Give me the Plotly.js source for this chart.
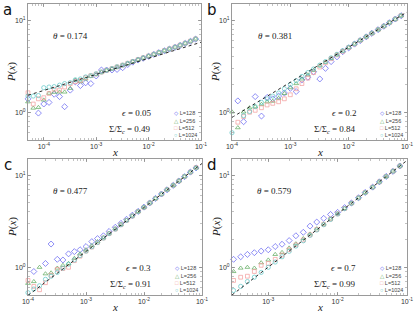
<!DOCTYPE html>
<html><head><meta charset="utf-8">
<script src="https://cdn.plot.ly/plotly-3.0.1.min.js"></script>
<style>html,body{margin:0;padding:0;background:#fff}#chart{width:415px;height:312px}</style>
</head><body><div id="chart"></div>
<script>
// ---------- data ----------
const SERIES = ['L=128', 'L=256', 'L=512', 'L=1024'];
const PANELS = ['a', 'b', 'c', 'd'];
const THETA = ['0.174', '0.381', '0.477', '0.579'];
const EPS = ['0.05', '0.2', '0.3', '0.7'];
const SIGMA_RATIO = ['0.49', '0.84', '0.91', '0.99'];

const X_A = [5.0e-5, 6.3e-5, 7.9e-5, 1.0e-4, 1.26e-4, 1.58e-4, 2.0e-4, 2.5e-4, 3.2e-4, 4.0e-4, 5.0e-4, 6.3e-4, 7.9e-4,
  1.0e-3, 1.26e-3, 1.58e-3, 2.0e-3, 2.5e-3, 3.2e-3, 4.0e-3, 5.0e-3, 6.3e-3, 7.9e-3,
  1.0e-2, 1.26e-2, 1.58e-2, 2.0e-2, 2.5e-2, 3.2e-2, 4.0e-2, 5.0e-2, 6.3e-2, 7.9e-2, 1.0e-1];
const X_BC = [1.0e-4, 1.26e-4, 1.58e-4, 2.0e-4, 2.5e-4, 3.2e-4, 4.0e-4, 5.0e-4, 6.3e-4, 7.9e-4,
  1.0e-3, 1.26e-3, 1.58e-3, 2.0e-3, 2.5e-3, 3.2e-3, 4.0e-3, 5.0e-3, 6.3e-3, 7.9e-3,
  1.0e-2, 1.26e-2, 1.58e-2, 2.0e-2, 2.5e-2, 3.2e-2, 4.0e-2, 5.0e-2, 6.3e-2, 7.9e-2, 1.0e-1];
const X_D = [3.16e-4, 4.0e-4, 5.0e-4, 6.3e-4, 7.9e-4,
  1.0e-3, 1.26e-3, 1.58e-3, 2.0e-3, 2.5e-3, 3.2e-3, 4.0e-3, 5.0e-3, 6.3e-3, 7.9e-3,
  1.0e-2, 1.26e-2, 1.58e-2, 2.0e-2, 2.5e-2, 3.2e-2, 4.0e-2, 5.0e-2, 6.3e-2, 7.9e-2, 1.0e-1];

const A_L128 = [1.40, null, 0.98, 1.23, 1.28, 1.57, 1.48, 1.15, 1.74, 2.14, 1.95, 2.09, 2.05, 2.48, 2.88, 2.88, 2.88, 2.92, 3.05, 3.30, 3.50, 3.70, 3.86, 4.05, 4.25, 4.44, 4.66, 4.86, 5.08, 5.34, 5.60, 5.90, 6.24, 6.60];
const A_L256 = [1.30, 1.11, 1.13, 1.36, 1.61, 1.65, 1.66, 1.66, 1.82, 2.24, 2.15, 2.30, 2.45, 2.58, 2.72, 2.84, 2.97, 3.10, 3.24, 3.39, 3.55, 3.72, 3.89, 4.07, 4.26, 4.46, 4.66, 4.87, 5.10, 5.34, 5.62, 5.93, 6.26, 6.68];
const A_L512 = [1.63, 1.23, 1.40, 1.44, 1.60, 1.78, 1.74, 1.88, 2.05, 2.15, 2.22, 2.38, 2.50, 2.60, 2.73, 2.86, 2.98, 3.11, 3.25, 3.41, 3.56, 3.74, 3.91, 4.09, 4.27, 4.48, 4.68, 4.89, 5.11, 5.36, 5.63, 5.92, 6.26, 6.66];
const A_L1024 = [1.50, 1.50, 1.52, 1.85, 1.88, 1.90, 1.97, 2.05, 2.10, 2.25, 2.30, 2.42, 2.50, 2.62, 2.74, 2.86, 2.98, 3.12, 3.25, 3.40, 3.56, 3.73, 3.90, 4.08, 4.27, 4.47, 4.67, 4.88, 5.10, 5.35, 5.62, 5.92, 6.25, 6.65];

const B_L128 = [null, 1.33, 0.79, null, 1.48, 0.91, 1.45, 1.40, 1.50, 1.62, 1.82, 1.68, 2.25, 2.40, 2.75, 2.30, 3.00, 3.55, 4.00, 4.55, 5.00, 5.50, 6.00, 6.60, 7.20, 7.90, 8.60, 9.40, 10.3, 11.2, 12.2];
const B_L256 = [1.01, 0.68, 1.01, 1.12, 1.15, 1.22, 1.30, 1.32, 1.42, 1.60, 1.85, 2.05, 2.30, 2.55, 2.85, 3.20, 3.50, 3.85, 4.22, 4.62, 5.05, 5.52, 6.04, 6.60, 7.20, 7.88, 8.60, 9.40, 10.25, 11.2, 12.2];
const B_L512 = [null, 0.78, 0.90, 1.00, 1.05, 1.12, 1.20, 1.25, 1.30, 1.40, 1.55, 1.80, 2.05, 2.35, 2.70, 3.10, 3.45, 3.82, 4.20, 4.60, 5.05, 5.52, 6.05, 6.60, 7.22, 7.90, 8.62, 9.42, 10.3, 11.2, 12.25];
const B_L1024 = [0.60, null, 0.92, 1.02, 1.15, 1.28, 1.40, 1.50, 1.62, 1.80, 2.00, 2.20, 2.45, 2.70, 2.95, 3.25, 3.55, 3.90, 4.26, 4.66, 5.09, 5.56, 6.07, 6.63, 7.24, 7.90, 8.63, 9.42, 10.3, 11.2, 12.2];

const C_L128 = [null, 0.90, null, 1.10, 1.79, 1.22, 1.20, 1.40, 1.48, 1.55, 1.68, 1.90, 2.05, 2.20, 2.45, 2.72, 3.00, 3.32, 3.68, 4.05, 4.50, 5.00, 5.60, 6.25, 6.95, 7.75, 8.65, 9.65, 10.8, 12.0, 13.2];
const C_L256 = [0.67, 0.70, 1.00, 0.85, 0.87, 0.98, 1.05, 1.10, 1.25, 1.40, 1.55, 1.72, 1.90, 2.10, 2.35, 2.62, 2.92, 3.25, 3.62, 4.03, 4.48, 5.00, 5.58, 6.22, 6.95, 7.75, 8.65, 9.65, 10.8, 12.0, 13.3];
const C_L512 = [0.72, 0.62, 0.57, 0.68, 0.82, 0.95, 0.97, 1.00, 1.18, 1.32, 1.50, 1.66, 1.86, 2.08, 2.32, 2.60, 2.90, 3.23, 3.60, 4.02, 4.48, 5.00, 5.59, 6.24, 6.97, 7.78, 8.68, 9.70, 10.8, 12.1, 13.4];
const C_L1024 = [0.53, 0.58, 0.63, 0.74, 0.80, 0.88, 0.98, 1.08, 1.20, 1.34, 1.50, 1.67, 1.86, 2.08, 2.32, 2.60, 2.90, 3.23, 3.60, 4.02, 4.48, 5.00, 5.59, 6.24, 6.97, 7.78, 8.68, 9.70, 10.8, 12.0, 12.8];

const D_L128 = [1.22, 1.30, 1.38, 1.44, 1.50, 1.55, 1.68, 1.78, 1.95, 2.20, 2.40, 2.80, 3.10, 3.40, 3.75, 3.95, 4.45, 5.00, 5.70, 6.50, 7.42, 8.48, 9.70, 11.0, 12.6, 14.2];
const D_L256 = [0.90, 0.98, 1.00, 0.98, 1.12, 1.20, 1.38, 1.45, 1.62, 1.80, 2.05, 2.30, 2.62, 2.95, 3.35, 3.82, 4.36, 4.97, 5.68, 6.49, 7.42, 8.48, 9.70, 11.1, 12.6, 10.6];
const D_L512 = [0.72, 0.78, 0.80, 0.90, 1.05, 1.10, 1.22, 1.36, 1.55, 1.75, 1.98, 2.25, 2.57, 2.93, 3.34, 3.81, 4.35, 4.97, 5.68, 6.49, 7.42, 8.48, 9.69, 11.07, 12.6, 14.3];
const D_L1024 = [0.56, 0.62, 0.70, 0.78, 0.88, 1.00, 1.14, 1.30, 1.49, 1.70, 1.94, 2.22, 2.54, 2.90, 3.31, 3.79, 4.33, 4.95, 5.66, 6.47, 7.40, 8.46, 9.67, 11.05, 12.6, 14.3];

// fitted power-law lines (end points)
const FIT_A_X = [5.0e-5, 1.0e-1], FIT_A_Y = [1.53, 5.76];
const FIT_B_X = [1.0e-4, 1.0e-1], FIT_B_Y = [0.88, 12.25];
const FIT_C_X = [1.0e-4, 1.0e-1], FIT_C_Y = [0.495, 13.4];
const FIT_D_X = [3.0e-4, 1.0e-1], FIT_D_Y = [0.50, 14.46];

const X_TICKS = [1e-4, 1e-3, 1e-2, 1e-1];
const X_TICKTEXT = ['10<sup>-4</sup>', '10<sup>-3</sup>', '10<sup>-2</sup>', '10<sup>-1</sup>'];
const Y_TICKS = [1, 10];
const Y_TICKTEXT = ['10<sup>0</sup>', '10<sup>1</sup>'];

const X_RANGES = [[5.0e-5, 0.1], [1e-4, 0.1], [1e-4, 0.1], [3.0e-4, 0.1]];
const Y_RANGE = [0.5, 15];

// ---------- styling ----------
const COLORS = ['#5c5cf0', '#5aa85a', '#f29a9a', '#5ac6c6'];
const SYMBOLS = ['diamond-open', 'triangle-up-open', 'square-open', 'circle-open'];
const SIZES = [4.6, 4.2, 3.8, 4.2];
const GLYPHS = ['\u25C7', '\u25B3', '\u25A1', '\u25CB'];

const panelX = [X_A, X_BC, X_BC, X_D];
const panelY = [
  [A_L128, A_L256, A_L512, A_L1024],
  [B_L128, B_L256, B_L512, B_L1024],
  [C_L128, C_L256, C_L512, C_L1024],
  [D_L128, D_L256, D_L512, D_L1024]
];
const fits = [[FIT_A_X, FIT_A_Y], [FIT_B_X, FIT_B_Y], [FIT_C_X, FIT_C_Y], [FIT_D_X, FIT_D_Y]];

const W = 415, H = 312;
const XDOM = [[28 / W, 201 / W], [232 / W, 407 / W], [28 / W, 202 / W], [232 / W, 407 / W]];
const YDOM = [[1 - 140 / H, 1 - 4 / H], [1 - 140 / H, 1 - 4 / H], [1 - 295 / H, 1 - 159 / H], [1 - 295 / H, 1 - 159 / H]];
const SUF = ['', '2', '3', '4'];

const traces = [];
const layout = {
  width: W, height: H,
  margin: {l: 0, r: 0, t: 0, b: 0},
  paper_bgcolor: '#fff', plot_bgcolor: '#fff',
  showlegend: false,
  font: {family: 'Liberation Sans, Arial, sans-serif', color: '#333'},
  annotations: []
};

const serif = 'Liberation Serif, DejaVu Serif, serif';

for (let p = 0; p < 4; p++) {
  const xa = 'x' + SUF[p], ya = 'y' + SUF[p];
  for (let s = 0; s < 4; s++) {
    traces.push({
      type: 'scatter', mode: 'markers', name: SERIES[s],
      x: panelX[p], y: panelY[p][s], xaxis: xa, yaxis: ya,
      cliponaxis: false,
      marker: {symbol: SYMBOLS[s], size: SIZES[s], color: COLORS[s], line: {width: 0.7, color: COLORS[s]}}
    });
  }
  traces.push({
    type: 'scatter', mode: 'lines', x: fits[p][0], y: fits[p][1], xaxis: xa, yaxis: ya,
    line: {color: '#111', width: 0.9, dash: 'dot'}, cliponaxis: true
  });

  const common = {
    type: 'log', showgrid: false, zeroline: false,
    showline: true, linecolor: '#9a9a9a', linewidth: 1, mirror: 'allticks',
    ticks: 'inside', ticklen: 3, tickcolor: '#8a8a8a', tickwidth: 0.8,
    tickfont: {size: 7, color: '#333', family: 'Liberation Sans, Arial, sans-serif'},
    minor: {ticks: 'inside', ticklen: 1.6, tickcolor: '#9a9a9a', tickwidth: 0.6, dtick: 'D1', showgrid: false}
  };
  layout['xaxis' + SUF[p]] = Object.assign({}, common, {
    domain: XDOM[p], anchor: ya,
    range: [Math.log10(X_RANGES[p][0]), Math.log10(X_RANGES[p][1])],
    tickmode: 'array', tickvals: X_TICKS, ticktext: X_TICKTEXT
  });
  layout['yaxis' + SUF[p]] = Object.assign({}, common, {
    domain: YDOM[p], anchor: xa,
    range: [Math.log10(Y_RANGE[0]), Math.log10(Y_RANGE[1])],
    tickmode: 'array', tickvals: Y_TICKS, ticktext: Y_TICKTEXT
  });

  const xr = xa + ' domain', yr = ya + ' domain';
  const A = layout.annotations;
  A.push({xref: xr, yref: yr, x: 0.245, y: 0.765, xanchor: 'center', yanchor: 'middle', showarrow: false,
    text: '<i>θ</i> = ' + THETA[p], font: {family: serif, size: 9, color: '#222'}});
  A.push({xref: xr, yref: yr, x: 0.72, y: 0.20, xanchor: 'right', yanchor: 'middle', showarrow: false,
    text: '<i>ϵ</i> = ' + EPS[p], font: {family: serif, size: 9, color: '#222'}});
  A.push({xref: xr, yref: yr, x: 0.72, y: 0.075, xanchor: 'right', yanchor: 'middle', showarrow: false,
    text: 'Σ/Σ<sub><i>c</i></sub> = ' + SIGMA_RATIO[p], font: {family: serif, size: 9, color: '#222'}});
  const rows = [0.195, 0.142, 0.089, 0.036];
  for (let s = 0; s < 4; s++) {
    A.push({xref: xr, yref: yr, x: 0.835, y: rows[s], xanchor: 'left', yanchor: 'middle', showarrow: false,
      text: '<span style="color:' + COLORS[s] + '">' + GLYPHS[s] + '</span> ' + SERIES[s],
      font: {family: 'Liberation Sans, DejaVu Sans, sans-serif', size: 5.5, color: '#444'}});
  }
  // axis titles
  const dx = XDOM[p], dy = YDOM[p];
  A.push({xref: 'paper', yref: 'paper', x: (dx[0] + dx[1]) / 2, y: dy[0] - 12 / H, xanchor: 'center', yanchor: 'middle',
    showarrow: false, borderpad: 0, text: '<i>x</i>', font: {family: serif, size: 11, color: '#222'}});
  A.push({xref: 'paper', yref: 'paper', x: dx[0] - 16 / W, y: dy[0] + (dy[1] - dy[0]) * 0.5, xanchor: 'center', yanchor: 'middle',
    showarrow: false, textangle: -90, text: '<i>P</i>(<i>x</i>)', font: {family: serif, size: 11, color: '#222'}});
  // panel letter
  A.push({xref: 'paper', yref: 'paper', x: dx[0] - 20 / W, y: dy[1] - 6 / H, xanchor: 'center', yanchor: 'middle',
    showarrow: false, text: PANELS[p], font: {family: 'DejaVu Sans, sans-serif', size: 15, color: '#111'}});
}

Plotly.newPlot('chart', traces, layout, {staticPlot: true, displayModeBar: false});
</script>
</body></html>
